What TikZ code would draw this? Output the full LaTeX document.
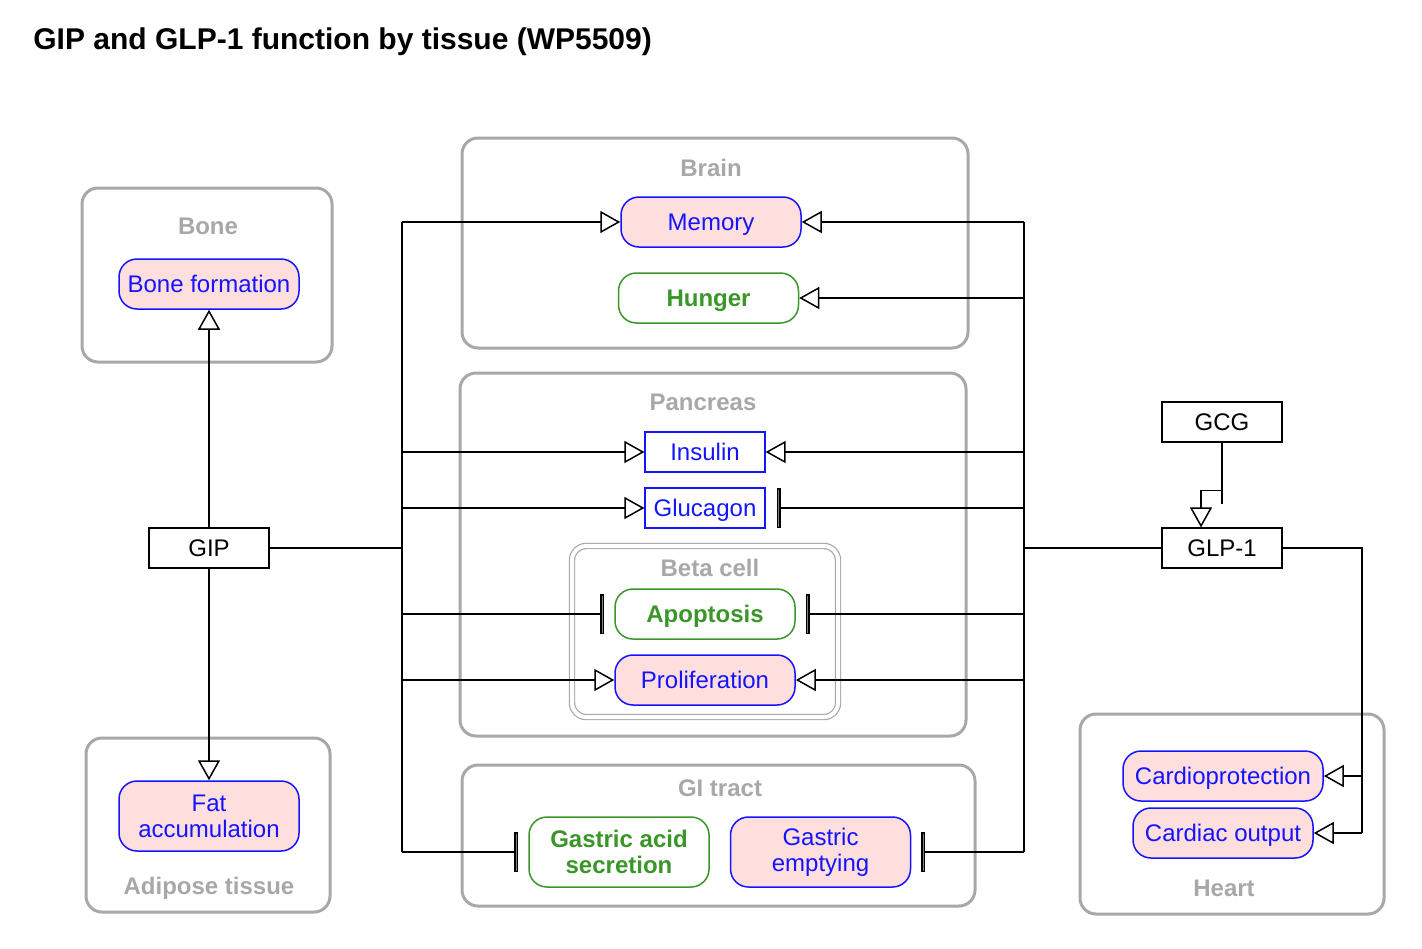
\documentclass[tikz,border=0pt]{standalone}
\usepackage{fontspec}
\setmainfont{Liberation Sans}
\usetikzlibrary{arrows.meta}
\usetikzlibrary{positioning}
\definecolor{wpblue}{RGB}{20,20,255}
\definecolor{wppink}{RGB}{255,222,222}
\definecolor{wpgreen}{RGB}{58,150,40}
\definecolor{wpgray}{RGB}{168,168,168}
\tikzset{%
  link/.style={line width=0.75pt},
  stim/.style={link, -{Triangle[open, length=10pt, width=11pt, fill=white]}},
  inhib/.style={link, -{Rectangle[length=2pt, width=20pt, fill=gray]}, shorten >=5pt},
  oneline/.style={text height=8.6pt, text depth=0pt},
  twoline/.style={minimum height=35pt},
  upnode/.style={draw=wpblue, fill=wppink, text=wpblue, line width=0.75pt, rounded corners=9pt,
    minimum width=90pt, minimum height=25pt, inner sep=0pt, align=center},
  downnode/.style={upnode, draw=wpgreen, fill=white, text=wpgreen, font=\bfseries\fontsize{12}{13}\selectfont},
  gene/.style={draw, line width=0.6pt, minimum width=60pt, minimum height=20pt, inner sep=0pt, oneline},
  grp/.style={draw=wpgray, line width=1.5pt, rounded corners=8pt},
  grplabel/.style={text=wpgray, font=\bfseries\fontsize{12}{13}\selectfont, oneline}
}

\begin{document}
\begin{tikzpicture}[x=0.5pt, y=-0.5pt, font=\fontsize{12}{13}\selectfont]
  \useasboundingbox (0,0) rectangle (1422,948);
  \node[anchor=west, inner sep=0pt, font=\bfseries\fontsize{15}{18}\selectfont] (title) at (33,42) {GIP and GLP-1 function by tissue (WP5509)};

  \draw[grp] (82,188) rectangle (332,362);
  \node[grplabel] (bonelbl) at (208,226) {Bone};
  \draw[grp] (86,738) rectangle (330,912);
  \node[grplabel] (adiplbl) at (209,886) {Adipose tissue};
  \draw[grp] (462,138) rectangle (968,348);
  \node[grplabel] (brainlbl) at (711,168) {Brain};
  \draw[grp] (460,373) rectangle (966,736);
  \node[grplabel] (panclbl) at (703,402) {Pancreas};
  \draw[draw=wpgray, line width=0.6pt, double=white, double distance=2pt, rounded corners=7pt] (572,546) rectangle (838,717);
  \node[grplabel] (betalbl) at (710,568) {Beta cell};
  \draw[grp] (462,765) rectangle (975,906);
  \node[grplabel] (gilbl) at (720,788) {GI tract};
  \draw[grp] (1080,714) rectangle (1384,914);
  \node[grplabel] (heartlbl) at (1224,888) {Heart};

  \node[upnode, oneline] (bform) at (209,284) {Bone formation};
  \node[gene] (gip) at (209,548) {GIP};
  \node[upnode, twoline] (fat) at (209,816) {Fat\\accumulation};
  \node[upnode, oneline] (mem) at (711,222) {Memory};
  \node[downnode, oneline] (hunger) at (708.5,298) {Hunger};
  \node[gene, draw=wpblue, text=wpblue] (ins) at (705,452) {Insulin};
  \node[gene, draw=wpblue, text=wpblue] (gcgn) at (705,508) {Glucagon};
  \node[downnode, oneline] (apop) at (705,614) {Apoptosis};
  \node[upnode, oneline] (prolif) at (705,680) {Proliferation};
  \node[downnode, twoline] (gacid) at (619,852) {Gastric acid\\secretion};
  \node[upnode, twoline] (gempty) at (820.5,852) {Gastric\\emptying};
  \node[upnode, oneline, minimum width=100pt] (cardp) at (1223,776) {Cardioprotection};
  \node[upnode, oneline] (cout) at (1223,833) {Cardiac output};
  \node[gene] (gcg) at (1222,422) {GCG};
  \node[gene] (glp) at (1222,548) {GLP-1};

  \coordinate (gipbus) at (402,548);
  \coordinate (glpbus) at (1024,548);
  \coordinate (hbus) at (1362,548);

  \draw[stim] (gip) -- (bform);
  \draw[stim] (gip) -- (fat);
  \draw[link, line width=1pt] (gip.east) -- (gipbus);
  \draw[link] (gipbus |- mem) -- (gipbus |- gacid);
  \draw[stim] (gipbus |- mem) -- (mem.west);
  \draw[stim] (gipbus |- ins) -- (ins.west);
  \draw[stim] (gipbus |- gcgn) -- (gcgn.west);
  \draw[inhib] (gipbus |- apop) -- (apop.west);
  \draw[stim] (gipbus |- prolif) -- (prolif.west);
  \draw[inhib] (gipbus |- gacid) -- (gacid.west);

  \draw[link, line width=1pt] (glp.west) -- (glpbus);
  \draw[link] (glpbus |- mem) -- (glpbus |- gempty);
  \draw[stim] (glpbus |- mem) -- (mem.east);
  \draw[stim] (glpbus |- hunger) -- (hunger.east);
  \draw[stim] (glpbus |- ins) -- (ins.east);
  \draw[inhib, shorten >=5.5pt] (glpbus |- gcgn) -- (gcgn.east);
  \draw[inhib] (glpbus |- apop) -- (apop.east);
  \draw[stim] (glpbus |- prolif) -- (prolif.east);
  \draw[inhib] (glpbus |- gempty) -- (gempty.east);

  \draw[link] (glp.east) -| (hbus |- cout);
  \draw[stim] (hbus |- cardp) -- (cardp.east);
  \draw[stim] (hbus |- cout) -- (cout.east);

  \draw[link] (gcg.south) -- ++(0,61);
  \draw[stim] (gcg.south) ++(0,48) -| ([xshift=-10.5pt]glp.north);
\end{tikzpicture}
\end{document}
